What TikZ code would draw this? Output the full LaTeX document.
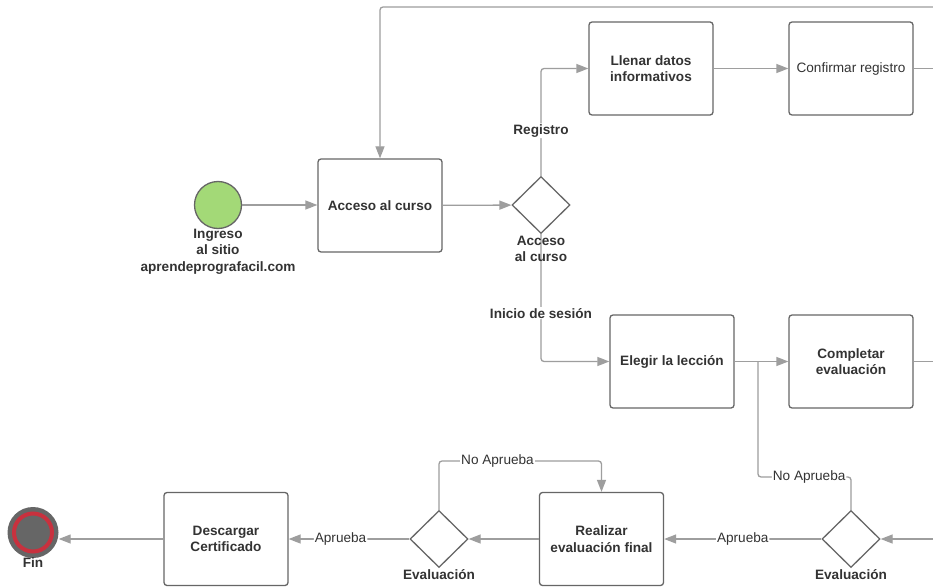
\documentclass[tikz,border=0pt]{standalone}
\usepackage{fontspec}
\setmainfont{Liberation Sans}
\usetikzlibrary{arrows.meta,shapes.geometric}
\definecolor{boxc}{HTML}{666666}
\definecolor{linec}{HTML}{9E9E9E}
\definecolor{txt}{HTML}{333333}
\definecolor{startg}{HTML}{A3D977}
\definecolor{finred}{HTML}{C8313E}
\begin{document}
\begin{tikzpicture}[x=1pt,y=-1pt,
  font=\fontsize{13.6}{16.5}\selectfont\bfseries, text=txt,
  task/.style={draw=boxc, line width=1.3pt, rounded corners=3pt, minimum width=124pt, minimum height=93pt, inner sep=0pt, align=center, fill=white},
  gate/.style={diamond, draw=boxc, line width=1.3pt, minimum width=58pt, minimum height=57pt, inner sep=0pt, fill=white},
  flow/.style={draw=linec, line width=1.3pt, rounded corners=3pt, -{Triangle[length=12pt,width=9pt]}},
  plain/.style={draw=linec, line width=1.3pt, rounded corners=3pt},
  lab/.style={fill=white, inner sep=1pt, font=\normalfont\fontsize{13.6}{16}\selectfont},
  blab/.style={fill=white, inner sep=1pt},
  captxt/.style={align=center, inner sep=0pt}
]
\useasboundingbox[fill=white] (0,0) rectangle (933,588);

% nodes
\node[circle, draw=boxc, fill=startg, line width=1.3pt, minimum size=47pt, inner sep=0pt] (start) at (218,205) {};
\node[task] (acc) at (380,205.5) {Acceso al curso};
\node[gate] (g1) at (541,205) {};
\node[task] (llen) at (651,68.5) {Llenar datos\\informativos};
\node[task, font=\normalfont\fontsize{13.6}{16.5}\selectfont] (conf) at (851,68.5) {Confirmar registro};
\node[task] (eleg) at (672,361.5) {Elegir la lección};
\node[task] (comp) at (851,361.5) {Completar\\evaluación};
\node[gate] (g2) at (851,539) {};
\node[task] (real) at (601.5,539) {Realizar\\evaluación final};
\node[gate] (g3) at (439,539) {};
\node[task] (desc) at (226,539) {Descargar\\Certificado};
\node[circle, fill=boxc, minimum size=51pt, inner sep=0pt] (fin) at (33,532.5) {};
\draw[finred, line width=4pt] (fin.center) circle (19pt);

% free ends
\coordinate (topR) at (933,7);
\coordinate (r1) at (933,68.5);
\coordinate (r2) at (933,361.5);
\coordinate (r3) at (933,539);
\coordinate (j1) at (758,361.5);

% connectors
\draw[flow] (start.east) -- (start.east -| acc.west);
\draw[flow] (topR) -| (acc.north);
\draw[flow] (acc) -- (g1);
\draw[flow] (g1.north) |- node[blab, pos=0.21]{Registro} (llen.west);
\draw[flow] (llen) -- (conf);
\draw[plain] (conf) -- (r1);
\draw[flow] (g1.south) |- node[blab, pos=0.31]{Inicio de sesión} (eleg.west);
\draw[flow] (eleg) -- (comp);
\draw[plain] (comp) -- (r2);
\draw[flow] (r3) -- (g2.east);
\draw[plain] (g2.north) -- (851,477) -- node[lab, pos=0.45]{No Aprueba} (758,477) -- (j1);
\draw[flow] (g2) -- node[lab]{Aprueba} (real);
\draw[flow] (real) -- (g3);
\draw[flow] (g3.north) -- (439,461) -- node[lab, pos=0.36]{No Aprueba} (601.5,461) -- (real.north);
\draw[flow] (g3) -- node[lab, pos=0.57]{Aprueba} (desc);
\draw[flow] (desc.west) -- (desc.west -| fin.east);

% captions
\node[captxt] at (218,251.5) {Ingreso\\al sitio\\aprendeprografacil.com};
\node[captxt] at (541,249) {Acceso\\al curso};
\node[captxt] at (851,575) {Evaluación};
\node[captxt] at (439,575) {Evaluación};
\node[captxt] at (33,563) {Fin};
\end{tikzpicture}
\end{document}
